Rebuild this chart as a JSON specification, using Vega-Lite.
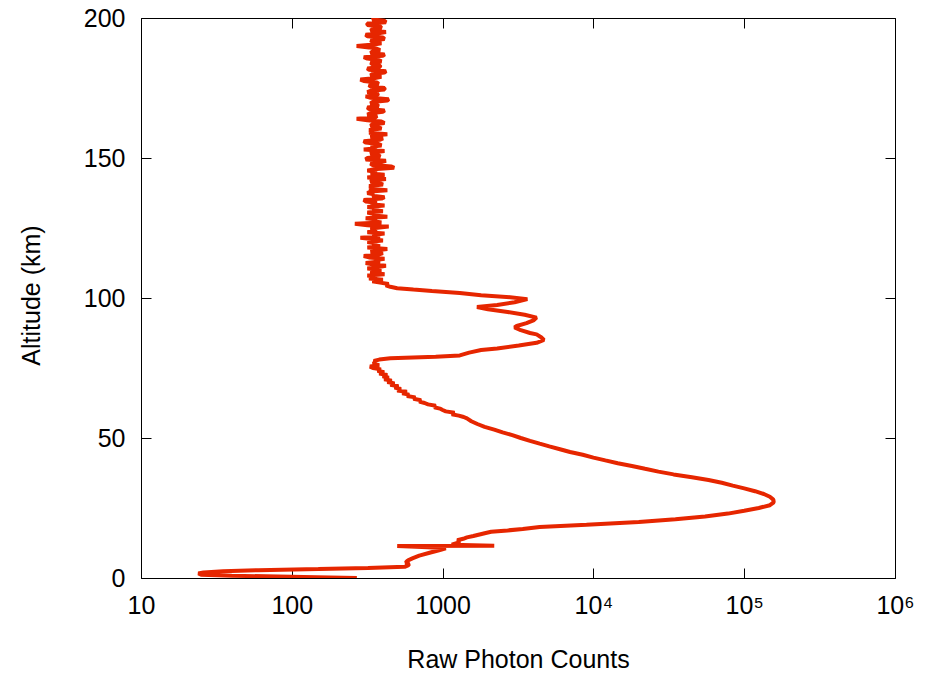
{
  "$schema": "https://vega.github.io/schema/vega-lite/v6.json",
  "width": 754,
  "height": 560,
  "autosize": "none",
  "padding": {"left": 141, "top": 18, "right": 41, "bottom": 96},
  "background": "white",
  "config": {
    "view": {"stroke": "black", "strokeWidth": 1},
    "axis": {
      "domain": false,
      "grid": false,
      "tickColor": "black",
      "tickSize": -10,
      "tickWidth": 1,
      "labelFont": "Liberation Sans",
      "labelFontSize": 25,
      "labelColor": "black",
      "titleFont": "Liberation Sans",
      "titleFontSize": 25,
      "titleFontWeight": "normal",
      "titleColor": "black"
    }
  },
  "data": {
    "values": [
      {"alt": 0, "counts": 270}, {"alt": 0.4, "counts": 120}, {"alt": 0.8, "counts": 40}, {"alt": 1.2, "counts": 25},
      {"alt": 1.6, "counts": 24}, {"alt": 2.0, "counts": 26}, {"alt": 2.4, "counts": 35}, {"alt": 2.8, "counts": 60},
      {"alt": 3.2, "counts": 150}, {"alt": 3.6, "counts": 320}, {"alt": 4.0, "counts": 560}, {"alt": 4.5, "counts": 590},
      {"alt": 5.0, "counts": 600}, {"alt": 5.5, "counts": 570}, {"alt": 6.0, "counts": 580}, {"alt": 6.5, "counts": 600},
      {"alt": 7.0, "counts": 630}, {"alt": 8.0, "counts": 700}, {"alt": 9.0, "counts": 820}, {"alt": 10.0, "counts": 960},
      {"alt": 10.6, "counts": 1050}, {"alt": 11.0, "counts": 800}, {"alt": 11.4, "counts": 500}, {"alt": 11.5, "counts": 2200},
      {"alt": 11.9, "counts": 1150}, {"alt": 12.5, "counts": 1250}, {"alt": 13.0, "counts": 1300}, {"alt": 13.5, "counts": 1250},
      {"alt": 14.0, "counts": 1370}, {"alt": 14.5, "counts": 1450},
      {"alt": 15.0, "counts": 1600}, {"alt": 16.0, "counts": 1900}, {"alt": 16.5, "counts": 2100}, {"alt": 17.0, "counts": 2700},
      {"alt": 17.5, "counts": 3400}, {"alt": 18.2, "counts": 4400}, {"alt": 19.0, "counts": 9000}, {"alt": 20.0, "counts": 20000},
      {"alt": 21.0, "counts": 35000}, {"alt": 22.0, "counts": 55000}, {"alt": 23.0, "counts": 78000}, {"alt": 24.0, "counts": 100000},
      {"alt": 25.0, "counts": 125000}, {"alt": 26.0, "counts": 148000}, {"alt": 27.0, "counts": 157000}, {"alt": 28.0, "counts": 156000},
      {"alt": 29.0, "counts": 148000}, {"alt": 30.0, "counts": 135000}, {"alt": 31.0, "counts": 118000}, {"alt": 32.0, "counts": 100000},
      {"alt": 33.0, "counts": 84000}, {"alt": 34.0, "counts": 71000}, {"alt": 35.0, "counts": 58000}, {"alt": 36.0, "counts": 45000},
      {"alt": 37.0, "counts": 34000}, {"alt": 38.0, "counts": 27000}, {"alt": 39.0, "counts": 22000}, {"alt": 40.0, "counts": 18000},
      {"alt": 41.0, "counts": 14500}, {"alt": 42.0, "counts": 12000}, {"alt": 43.0, "counts": 10000}, {"alt": 44.0, "counts": 8500},
      {"alt": 45.0, "counts": 7000}, {"alt": 46.0, "counts": 6000}, {"alt": 47.0, "counts": 5100}, {"alt": 48.0, "counts": 4400},
      {"alt": 49.0, "counts": 3800}, {"alt": 50.0, "counts": 3300}, {"alt": 51.0, "counts": 2900}, {"alt": 52.0, "counts": 2500},
      {"alt": 53.0, "counts": 2200}, {"alt": 54.0, "counts": 1900}, {"alt": 55.0, "counts": 1700}, {"alt": 56.0, "counts": 1550},
      {"alt": 57.0, "counts": 1450}, {"alt": 57.5, "counts": 1380},
      {"alt": 58.0, "counts": 1280}, {"alt": 58.5, "counts": 1150}, {"alt": 59.0, "counts": 1200}, {"alt": 59.5, "counts": 1050},
      {"alt": 60.0, "counts": 1000}, {"alt": 60.5, "counts": 960}, {"alt": 61.0, "counts": 880}, {"alt": 61.5, "counts": 900},
      {"alt": 62.0, "counts": 800}, {"alt": 62.5, "counts": 760}, {"alt": 63.0, "counts": 700}, {"alt": 63.5, "counts": 720},
      {"alt": 64.0, "counts": 640}, {"alt": 64.5, "counts": 660}, {"alt": 65.0, "counts": 580}, {"alt": 65.5, "counts": 600},
      {"alt": 66.0, "counts": 540}, {"alt": 66.5, "counts": 580}, {"alt": 67.0, "counts": 500}, {"alt": 67.5, "counts": 530},
      {"alt": 68.0, "counts": 480}, {"alt": 68.5, "counts": 510}, {"alt": 69.0, "counts": 450}, {"alt": 69.5, "counts": 480},
      {"alt": 70.0, "counts": 430}, {"alt": 70.5, "counts": 460}, {"alt": 71.0, "counts": 410}, {"alt": 71.5, "counts": 440},
      {"alt": 72.0, "counts": 400}, {"alt": 72.5, "counts": 430}, {"alt": 73.0, "counts": 380}, {"alt": 73.5, "counts": 410},
      {"alt": 74.0, "counts": 370}, {"alt": 74.5, "counts": 390}, {"alt": 75.0, "counts": 345}, {"alt": 75.5, "counts": 330},
      {"alt": 76.0, "counts": 380}, {"alt": 76.5, "counts": 345}, {"alt": 77.0, "counts": 360}, {"alt": 77.5, "counts": 350},
      {"alt": 78.0, "counts": 380}, {"alt": 78.5, "counts": 450},
      {"alt": 79.0, "counts": 900}, {"alt": 79.5, "counts": 1300}, {"alt": 80.5, "counts": 1500}, {"alt": 81.4, "counts": 1800},
      {"alt": 82.0, "counts": 2300}, {"alt": 83.0, "counts": 3200}, {"alt": 84.0, "counts": 4200}, {"alt": 85.0, "counts": 4700},
      {"alt": 86.0, "counts": 4500}, {"alt": 87.0, "counts": 4200}, {"alt": 87.5, "counts": 3800}, {"alt": 88.5, "counts": 3300},
      {"alt": 89.5, "counts": 3000}, {"alt": 90.0, "counts": 3100}, {"alt": 91.0, "counts": 3600}, {"alt": 92.0, "counts": 4000},
      {"alt": 93.0, "counts": 4200}, {"alt": 94.0, "counts": 3500}, {"alt": 95.0, "counts": 2700}, {"alt": 96.0, "counts": 2000},
      {"alt": 96.8, "counts": 1690}, {"alt": 97.5, "counts": 2300}, {"alt": 98.5, "counts": 3000}, {"alt": 99.6, "counts": 3650},
      {"alt": 100.3, "counts": 2800}, {"alt": 101.0, "counts": 1800}, {"alt": 101.8, "counts": 1300}, {"alt": 102.5, "counts": 850},
      {"alt": 103.0, "counts": 640}, {"alt": 103.5, "counts": 500}, {"alt": 104.0, "counts": 450}, {"alt": 104.5, "counts": 420},
      {"alt": 105.0, "counts": 439}, {"alt": 105.5, "counts": 385}, {"alt": 106.0, "counts": 342}, {"alt": 106.5, "counts": 402}, {"alt": 107.0, "counts": 325},
      {"alt": 107.5, "counts": 367}, {"alt": 108.0, "counts": 317}, {"alt": 108.5, "counts": 412}, {"alt": 109.0, "counts": 350}, {"alt": 109.5, "counts": 333},
      {"alt": 110.0, "counts": 393}, {"alt": 110.5, "counts": 317}, {"alt": 111.0, "counts": 367}, {"alt": 111.5, "counts": 421}, {"alt": 112.0, "counts": 342},
      {"alt": 112.5, "counts": 309}, {"alt": 113.0, "counts": 385}, {"alt": 113.5, "counts": 350}, {"alt": 114.0, "counts": 412}, {"alt": 114.5, "counts": 325},
      {"alt": 115.0, "counts": 300}, {"alt": 115.5, "counts": 376}, {"alt": 116.0, "counts": 402}, {"alt": 116.5, "counts": 333}, {"alt": 117.0, "counts": 358},
      {"alt": 117.5, "counts": 430}, {"alt": 118.0, "counts": 317}, {"alt": 118.5, "counts": 385}, {"alt": 119.0, "counts": 342}, {"alt": 119.5, "counts": 367},
      {"alt": 120.0, "counts": 317}, {"alt": 120.5, "counts": 402}, {"alt": 121.0, "counts": 350}, {"alt": 121.5, "counts": 285}, {"alt": 122.0, "counts": 385},
      {"alt": 122.5, "counts": 342}, {"alt": 123.0, "counts": 412}, {"alt": 123.5, "counts": 317}, {"alt": 124.0, "counts": 367}, {"alt": 124.5, "counts": 333},
      {"alt": 125.0, "counts": 358}, {"alt": 125.5, "counts": 439}, {"alt": 126.0, "counts": 317}, {"alt": 126.5, "counts": 262}, {"alt": 127.0, "counts": 393},
      {"alt": 127.5, "counts": 342}, {"alt": 128.0, "counts": 367}, {"alt": 128.5, "counts": 309}, {"alt": 129.0, "counts": 430}, {"alt": 129.5, "counts": 350},
      {"alt": 130.0, "counts": 350}, {"alt": 130.5, "counts": 317}, {"alt": 131.0, "counts": 402}, {"alt": 131.5, "counts": 342}, {"alt": 132.0, "counts": 376},
      {"alt": 132.5, "counts": 317}, {"alt": 133.0, "counts": 412}, {"alt": 133.5, "counts": 333}, {"alt": 134.0, "counts": 367}, {"alt": 134.5, "counts": 309},
      {"alt": 135.0, "counts": 300}, {"alt": 135.5, "counts": 393}, {"alt": 136.0, "counts": 412}, {"alt": 136.5, "counts": 342}, {"alt": 137.0, "counts": 350},
      {"alt": 137.5, "counts": 317}, {"alt": 138.0, "counts": 333}, {"alt": 138.5, "counts": 430}, {"alt": 139.0, "counts": 325}, {"alt": 139.5, "counts": 367},
      {"alt": 140.0, "counts": 325}, {"alt": 140.5, "counts": 402}, {"alt": 141.0, "counts": 385}, {"alt": 141.5, "counts": 333}, {"alt": 142.0, "counts": 342},
      {"alt": 142.5, "counts": 421}, {"alt": 143.0, "counts": 317}, {"alt": 143.5, "counts": 367}, {"alt": 144.0, "counts": 412}, {"alt": 144.5, "counts": 333},
      {"alt": 145.0, "counts": 367}, {"alt": 145.5, "counts": 317}, {"alt": 146.0, "counts": 350}, {"alt": 146.5, "counts": 477}, {"alt": 147.0, "counts": 458},
      {"alt": 147.5, "counts": 342}, {"alt": 148.0, "counts": 333}, {"alt": 148.5, "counts": 393}, {"alt": 149.0, "counts": 421}, {"alt": 149.5, "counts": 309},
      {"alt": 150.0, "counts": 317}, {"alt": 150.5, "counts": 385}, {"alt": 151.0, "counts": 376}, {"alt": 151.5, "counts": 333}, {"alt": 152.0, "counts": 342},
      {"alt": 152.5, "counts": 412}, {"alt": 153.0, "counts": 300}, {"alt": 153.5, "counts": 367}, {"alt": 154.0, "counts": 333}, {"alt": 154.5, "counts": 393},
      {"alt": 155.0, "counts": 376}, {"alt": 155.5, "counts": 309}, {"alt": 156.0, "counts": 300}, {"alt": 156.5, "counts": 385}, {"alt": 157.0, "counts": 402},
      {"alt": 157.5, "counts": 333}, {"alt": 158.0, "counts": 350}, {"alt": 158.5, "counts": 430}, {"alt": 159.0, "counts": 325}, {"alt": 159.5, "counts": 367},
      {"alt": 160.0, "counts": 325}, {"alt": 160.5, "counts": 393}, {"alt": 161.0, "counts": 376}, {"alt": 161.5, "counts": 333}, {"alt": 162.0, "counts": 342},
      {"alt": 162.5, "counts": 412}, {"alt": 163.0, "counts": 393}, {"alt": 163.5, "counts": 317}, {"alt": 164.0, "counts": 269}, {"alt": 164.5, "counts": 358},
      {"alt": 165.0, "counts": 367}, {"alt": 165.5, "counts": 317}, {"alt": 166.0, "counts": 333}, {"alt": 166.5, "counts": 402}, {"alt": 167.0, "counts": 412},
      {"alt": 167.5, "counts": 325}, {"alt": 168.0, "counts": 317}, {"alt": 168.5, "counts": 376}, {"alt": 169.0, "counts": 367}, {"alt": 169.5, "counts": 333},
      {"alt": 170.0, "counts": 342}, {"alt": 170.5, "counts": 430}, {"alt": 171.0, "counts": 439}, {"alt": 171.5, "counts": 333}, {"alt": 172.0, "counts": 309},
      {"alt": 172.5, "counts": 367}, {"alt": 173.0, "counts": 376}, {"alt": 173.5, "counts": 317}, {"alt": 174.0, "counts": 333}, {"alt": 174.5, "counts": 412},
      {"alt": 175.0, "counts": 412}, {"alt": 175.5, "counts": 333}, {"alt": 176.0, "counts": 325}, {"alt": 176.5, "counts": 376}, {"alt": 177.0, "counts": 367},
      {"alt": 177.5, "counts": 300}, {"alt": 178.0, "counts": 285}, {"alt": 178.5, "counts": 350}, {"alt": 179.0, "counts": 393}, {"alt": 179.5, "counts": 333},
      {"alt": 180.0, "counts": 342}, {"alt": 180.5, "counts": 412}, {"alt": 181.0, "counts": 421}, {"alt": 181.5, "counts": 325}, {"alt": 182.0, "counts": 317},
      {"alt": 182.5, "counts": 385}, {"alt": 183.0, "counts": 385}, {"alt": 183.5, "counts": 342}, {"alt": 184.0, "counts": 333}, {"alt": 184.5, "counts": 393},
      {"alt": 185.0, "counts": 376}, {"alt": 185.5, "counts": 317}, {"alt": 186.0, "counts": 300}, {"alt": 186.5, "counts": 402}, {"alt": 187.0, "counts": 412},
      {"alt": 187.5, "counts": 333}, {"alt": 188.0, "counts": 342}, {"alt": 188.5, "counts": 385}, {"alt": 189.0, "counts": 367}, {"alt": 189.5, "counts": 325},
      {"alt": 190.0, "counts": 269}, {"alt": 190.5, "counts": 350}, {"alt": 191.0, "counts": 393}, {"alt": 191.5, "counts": 342}, {"alt": 192.0, "counts": 333},
      {"alt": 192.5, "counts": 412}, {"alt": 193.0, "counts": 402}, {"alt": 193.5, "counts": 317}, {"alt": 194.0, "counts": 309}, {"alt": 194.5, "counts": 376},
      {"alt": 195.0, "counts": 421}, {"alt": 195.5, "counts": 333}, {"alt": 196.0, "counts": 342}, {"alt": 196.5, "counts": 393}, {"alt": 197.0, "counts": 385},
      {"alt": 197.5, "counts": 317}, {"alt": 198.0, "counts": 317}, {"alt": 198.5, "counts": 421}, {"alt": 199.0, "counts": 412}, {"alt": 199.5, "counts": 342},
      {"alt": 200.0, "counts": 350}
    ]
  },
  "layer": [
    {
      "mark": {"type": "line", "color": "#e62600", "strokeWidth": 4, "strokeJoin": "bevel", "strokeCap": "butt", "clip": true},
      "encoding": {
        "x": {
          "field": "counts", "type": "quantitative",
          "scale": {"type": "log", "domain": [10, 1000000], "nice": false},
          "axis": {
            "orient": "bottom",
            "values": [10, 100, 1000, 10000, 100000, 1000000],
            "labelExpr": "datum.value >= 10000 ? '10' + (datum.value == 10000 ? '⁴' : (datum.value == 100000 ? '⁵' : '⁶')) : format(datum.value, 'd')",
            "labelPadding": 25,
            "labelBaseline": "top",
            "labelFlush": false,
            "title": "Raw Photon Counts",
            "titleX": 377,
            "titleY": 89,
            "titleBaseline": "alphabetic",
            "titleAnchor": "middle"
          }
        },
        "y": {
          "field": "alt", "type": "quantitative",
          "scale": {"domain": [0, 200], "nice": false, "zero": false},
          "axis": {
            "orient": "left",
            "values": [0, 50, 100, 150, 200],
            "labelPadding": 26,
            "labelFlush": false,
            "title": "Altitude (km)",
            "titleAngle": -90,
            "titleX": -102,
            "titleY": 277,
            "titleBaseline": "alphabetic",
            "titleAnchor": "middle"
          }
        },
        "order": {"field": "alt", "type": "quantitative"}
      }
    },
    {
      "mark": {"type": "line", "opacity": 0},
      "encoding": {
        "x": {
          "field": "counts", "type": "quantitative",
          "scale": {"type": "log", "domain": [10, 1000000], "nice": false},
          "axis": {"orient": "top", "values": [10, 100, 1000, 10000, 100000, 1000000], "labels": false, "title": null}
        },
        "y": {
          "field": "alt", "type": "quantitative",
          "scale": {"domain": [0, 200], "nice": false, "zero": false},
          "axis": {"orient": "right", "values": [0, 50, 100, 150, 200], "labels": false, "title": null}
        },
        "order": {"field": "alt", "type": "quantitative"}
      }
    }
  ],
  "resolve": {"axis": {"x": "independent", "y": "independent"}}
}
